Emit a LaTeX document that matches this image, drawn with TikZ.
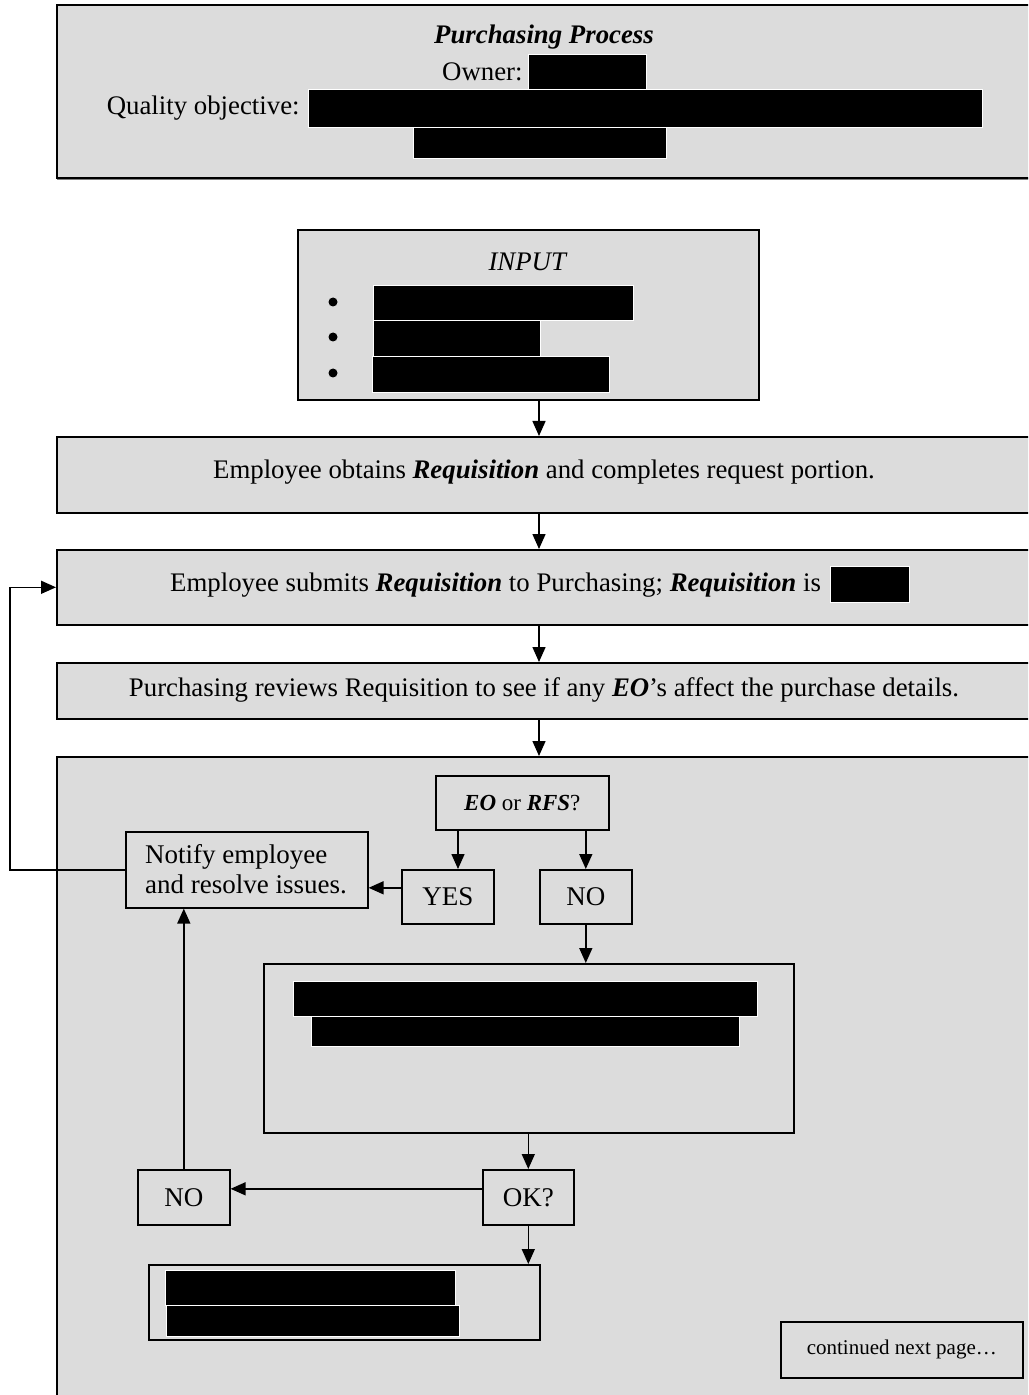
\documentclass[tikz,border=0pt]{standalone}
\usepackage{fontspec}
\setmainfont{Liberation Serif}
\usetikzlibrary{arrows.meta, positioning}
\definecolor{boxgrey}{RGB}{220,220,220}
\newcommand\BI[1]{\textbf{\textit{#1}}}
\tikzset{
  panel/.style={draw, fill=boxgrey, line width=0.8pt, anchor=north west, inner sep=0pt},
  flow/.style={line width=0.75pt, -{Triangle[length=7.5pt,width=6.5pt]}},
  redact/.style={fill=black, draw=white, line width=0.5pt},
  bigtext/.style={font=\fontsize{13.5}{15}\selectfont},
  dot/.style={circle, fill, inner sep=0pt, minimum size=4.5pt}
}

\begin{document}
\begin{tikzpicture}[x=0.5pt, y=-0.5pt, font=\fontsize{13.4}{15.5}\selectfont]
  \useasboundingbox (0,0) rectangle (1028,1395);
  \clip (0,0) rectangle (1028,1395);

  % header
  \draw[gray, line width=0.6pt] (57,179) -- (1032,179);
  \node[panel, line width=1pt, minimum width=488pt, minimum height=86.5pt] (head) at (56,4) {};
  \node (title) at (544,37) {\BI{Purchasing Process}};
  \node[anchor=east, inner sep=0pt] (owner) at (523,72) {Owner:};
  \node[anchor=east, inner sep=0pt] (quality) at (300,108) {Quality objective:};
  \draw[redact] (528,55) rectangle (646,92);
  \draw[redact] (308,90) rectangle (982,128);
  \draw[redact] (413,128) rectangle (666,159);

  % input
  \node[panel, minimum width=230.5pt, minimum height=85pt] (input) at (297,229) {};
  \node (inputlbl) at (528,262) {\textit{INPUT}};
  \foreach \y in {302,337,373}
    \node[dot] (bul\y) at (333,\y) {};
  \draw[redact] (373,286) rectangle (633,321);
  \draw[redact] (373,321) rectangle (540,357);
  \draw[redact] (372,357) rectangle (609,393);

  % process steps
  \node[panel, minimum width=488pt, minimum height=38pt] (obtain) at (56,436) {};
  \node (obtaintxt) at (544,472) {Employee obtains \BI{Requisition} and completes request portion.};
  \node[panel, minimum width=488pt, minimum height=37.5pt] (submit) at (56,549) {};
  \node[anchor=east] (submittxt) at (828,585) {Employee submits \BI{Requisition} to Purchasing; \BI{Requisition} is};
  \draw[redact] (830,566) rectangle (909,602);
  \node[panel, minimum width=488pt, minimum height=28pt] (review) at (56,662) {};
  \node (reviewtxt) at (544,690) {Purchasing reviews Requisition to see if any \BI{EO}’s affect the purchase details.};

  % decision area
  \node[panel, minimum width=488pt, minimum height=322pt] (area) at (56,756) {};
  \node[panel, minimum width=86.5pt, minimum height=27pt] (eo) at (435,775) {};
  \node[font=\fontsize{11.5}{13}\selectfont] (eotxt) at (eo.center) {\BI{EO} or \BI{RFS}?};
  \node[panel, minimum width=121pt, minimum height=38pt] (notify) at (125,831) {};
  \node[bigtext, align=left, anchor=west] (notifytxt) at (138,869) {Notify employee\\and resolve issues.};
  \node[panel, minimum width=46pt, minimum height=27pt] (yes) at (401,869) {};
  \node[bigtext] (yestxt) at (yes.center) {YES};
  \node[panel, minimum width=46pt, minimum height=27pt] (no) at (539,869) {};
  \node[bigtext] (notxt) at (no.center) {NO};
  \node[panel, minimum width=265pt, minimum height=84.5pt] (check) at (263,963) {};
  \draw[redact] (293,981) rectangle (757,1016);
  \draw[redact] (311,1016) rectangle (739,1046);
  \node[panel, minimum width=45.5pt, minimum height=27.5pt] (ok) at (482,1169) {};
  \node[bigtext] (oktxt) at (ok.center) {OK?};
  \node[panel, minimum width=46pt, minimum height=27.5pt] (nob) at (137,1169) {};
  \node[bigtext] (nobtxt) at (nob.center) {NO};
  \node[panel, minimum width=195.5pt, minimum height=37.5pt] (order) at (148,1264) {};
  \draw[redact] (165,1270) rectangle (455,1305);
  \draw[redact] (166,1305) rectangle (459,1336);
  \node[panel, minimum width=121pt, minimum height=28pt] (cont) at (780,1321) {};
  \node[font=\fontsize{10.5}{12}\selectfont] (conttxt) at (cont.center) {continued next page…};

  % connectors
  \coordinate (spine) at (539,0);
  \coordinate (loopx) at (10,0);
  \coordinate (yesx) at (458,0);
  \draw[flow] (input.south -| spine) -- (obtain.north -| spine);
  \draw[flow] (obtain.south -| spine) -- (submit.north -| spine);
  \draw[flow] (submit.south -| spine) -- (review.north -| spine);
  \draw[flow] (review.south -| spine) -- (area.north -| spine);
  \draw[flow] (eo.south -| yesx) -- (yes.north -| yesx);
  \draw[flow] (eo.south -| no.north) -- (no.north);
  \draw[flow] ([yshift=4.5pt]yes.west) -- ([yshift=4.5pt]yes.west -| notify.east);
  \draw[flow] (no.south) -- (check.north -| no.south);
  \draw[flow] (ok.north |- check.south) -- (ok.north);
  \draw[flow] ([yshift=4.25pt]ok.west) -- ([yshift=4.25pt]ok.west -| nob.east);
  \draw[flow] (nob.north) -- (notify.south -| nob.north);
  \draw[flow] (ok.south) -- (order.north -| ok.south);
  \draw[flow] (notify.west) -- (notify.west -| loopx) |- (submit.west);
\end{tikzpicture}
\end{document}
